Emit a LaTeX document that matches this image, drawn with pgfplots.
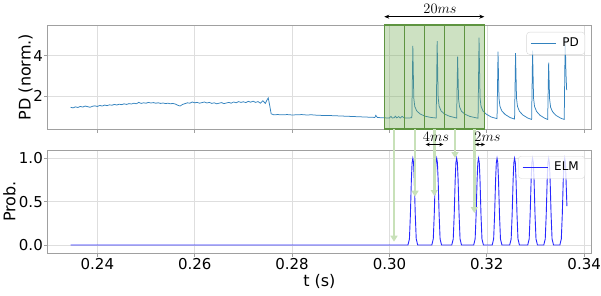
\documentclass[border=0pt]{standalone}
\usepackage{pgfplots}
\pgfplotsset{compat=1.18}
\usepackage{fontspec}
\setmainfont{DejaVu Sans}
\usetikzlibrary{arrows.meta}
\definecolor{pdc}{RGB}{50,130,190}
\definecolor{elmc}{RGB}{40,40,255}
\definecolor{framec}{RGB}{160,160,160}
\definecolor{gridc}{RGB}{222,222,222}
\definecolor{legc}{RGB}{215,215,215}
\definecolor{boxg}{RGB}{112,168,80}
\definecolor{boxedge}{RGB}{94,148,64}
\definecolor{arrg}{RGB}{200,225,185}
\pgfplotsset{
  mystyle/.style={
    scale only axis, width=543.3pt,
    xmin=0.2298, xmax=0.3414,
    axis line style={draw=framec, line width=0.8pt},
    every tick/.style={draw=framec, line width=0.8pt},
    tick align=outside, major tick length=3.5pt,
    tick pos=left,
    grid=major, grid style={gridc, line width=0.6pt},
    xtick={0.24,0.26,0.28,0.30,0.32,0.34},
    tick label style={font=\fontsize{15}{17}\selectfont, inner sep=1.2pt},
    label style={font=\fontsize{16}{18}\selectfont},
    /pgf/number format/assume math mode=true,
    legend cell align=left,
    legend image code/.code={\draw[#1] (0pt,0pt) -- (25pt,0pt);},
    legend style={at={(1,1)}, anchor=north east, draw=legc, rounded corners=3pt,
      fill=white, fill opacity=0.8, text opacity=1, draw opacity=1, inner xsep=4pt, inner ysep=4pt,
      column sep=4pt, font=\fontsize{12}{14}\selectfont},
  }
}
\begin{document}
\begin{tikzpicture}[x=1pt,y=1pt]
\path[use as bounding box] (0,0) rectangle (601,295);
\begin{axis}[mystyle, name=top, at={(47.7pt,166pt)}, anchor=south west, height=104pt,
  ymin=0.39, ymax=5.51, ytick={2,4}, xticklabels={}, ylabel={PD (norm.)},
  ylabel style={at={(axis description cs:-0.0405,0.5)}, anchor=center, font=\fontsize{16}{18}\selectfont},
  clip=false,
  legend style={xshift=-6pt, yshift=-7pt}]
\addplot[pdc, line width=0.75pt] coordinates {
(0.2345,1.46)(0.2350,1.43)(0.2355,1.48)(0.2360,1.45)(0.2365,1.50)(0.2370,1.47)
(0.2375,1.52)(0.2380,1.49)(0.2385,1.46)(0.2390,1.51)(0.2395,1.53)(0.2400,1.50)
(0.2405,1.55)(0.2410,1.52)(0.2415,1.57)(0.2420,1.54)(0.2425,1.58)(0.2430,1.56)
(0.2435,1.60)(0.2440,1.57)(0.2445,1.61)(0.2450,1.59)(0.2455,1.63)(0.2460,1.60)
(0.2465,1.64)(0.2470,1.62)(0.2475,1.66)(0.2480,1.63)(0.2485,1.70)(0.2490,1.65)
(0.2495,1.68)(0.2500,1.66)(0.2505,1.70)(0.2510,1.67)(0.2515,1.69)(0.2520,1.66)
(0.2525,1.68)(0.2530,1.65)(0.2535,1.67)(0.2540,1.64)(0.2545,1.66)(0.2550,1.63)
(0.2555,1.65)(0.2560,1.62)(0.2565,1.56)(0.2570,1.52)(0.2575,1.60)(0.2580,1.64)
(0.2585,1.68)(0.2590,1.66)(0.2595,1.72)(0.2600,1.68)(0.2605,1.70)(0.2610,1.66)
(0.2615,1.69)(0.2620,1.72)(0.2625,1.67)(0.2630,1.70)(0.2635,1.65)(0.2640,1.68)
(0.2645,1.63)(0.2650,1.66)(0.2655,1.69)(0.2660,1.64)(0.2665,1.67)(0.2670,1.70)
(0.2675,1.66)(0.2680,1.72)(0.2685,1.68)(0.2690,1.74)(0.2695,1.70)(0.2700,1.73)
(0.2705,1.69)(0.2710,1.75)(0.2715,1.71)(0.2720,1.76)(0.2725,1.70)(0.2730,1.74)
(0.2735,1.66)(0.2740,1.78)(0.2745,1.65)(0.2748,1.80)(0.2751,1.92)(0.2754,1.55)
(0.2757,1.14)(0.2762,1.09)(0.2770,1.10)(0.2780,1.09)(0.2790,1.10)(0.2800,1.08)
(0.2810,1.09)(0.2820,1.10)(0.2830,1.08)(0.2840,1.09)(0.2850,1.07)(0.2860,1.06)
(0.2870,1.06)(0.2880,1.05)(0.2890,1.04)(0.2900,1.03)(0.2910,1.02)(0.2920,1.01)
(0.2930,1.00)(0.2940,0.99)(0.2950,0.98)(0.2960,0.97)(0.2970,0.96)(0.2972,1.06)
(0.2975,0.96)(0.2980,0.95)(0.2990,0.94)(0.3000,0.93)(0.3003,1.01)(0.3006,0.93)
(0.3010,0.95)(0.3012,1.02)(0.3015,0.94)(0.3019,1.00)(0.3022,0.93)(0.3026,1.01)
(0.3030,0.94)(0.3040,0.93)(0.3046,0.95)
(0.3048,4.48)(0.3050,1.90)(0.3052,1.50)(0.3056,1.28)(0.3063,1.13)(0.3073,1.02)(0.3085,0.96)(0.3096,0.93)
(0.3098,4.72)(0.3100,1.95)(0.3102,1.52)(0.3106,1.28)(0.3113,1.13)(0.3123,1.02)(0.3138,0.93)
(0.3140,3.95)(0.3142,1.85)(0.3144,1.48)(0.3148,1.26)(0.3155,1.12)(0.3165,1.01)(0.3182,0.92)
(0.3184,4.89)(0.3186,1.95)(0.3188,1.52)(0.3192,1.28)(0.3199,1.12)(0.3209,0.98)(0.3221,0.90)
(0.3223,4.20)(0.3225,1.90)(0.3227,1.50)(0.3231,1.27)(0.3238,1.10)(0.3248,0.95)(0.3257,0.88)
(0.3259,4.12)(0.3261,1.90)(0.3263,1.50)(0.3267,1.26)(0.3274,1.08)(0.3284,0.93)(0.3292,0.86)
(0.3294,4.25)(0.3296,1.90)(0.3298,1.50)(0.3302,1.26)(0.3309,1.07)(0.3319,0.92)(0.3325,0.86)
(0.3327,3.66)(0.3329,1.85)(0.3331,1.46)(0.3335,1.24)(0.3342,1.06)(0.3352,0.92)(0.3359,0.86)
(0.3361,4.94)(0.33625,3.20)(0.3364,2.30)
};
\addlegendentry{PD}
\fill[boxg, fill opacity=0.35] (axis cs:0.29903,0.39) rectangle (axis cs:0.31957,5.51);
\draw[boxedge, line width=1.3pt] (axis cs:0.29903,0.39) rectangle (axis cs:0.31957,5.51);
\draw[boxedge, line width=1.3pt] (axis cs:0.30314,0.39) -- (axis cs:0.30314,5.51);
\draw[boxedge, line width=1.3pt] (axis cs:0.30725,0.39) -- (axis cs:0.30725,5.51);
\draw[boxedge, line width=1.3pt] (axis cs:0.31136,0.39) -- (axis cs:0.31136,5.51);
\draw[boxedge, line width=1.3pt] (axis cs:0.31547,0.39) -- (axis cs:0.31547,5.51);
\end{axis}
\begin{axis}[mystyle, name=bot, at={(47.7pt,42pt)}, anchor=south west, height=103pt,
  ymin=-0.092, ymax=1.096, ytick={0,0.5,1},
  yticklabel style={/pgf/number format/.cd, fixed, fixed zerofill, precision=1},
  xticklabel style={/pgf/number format/.cd, fixed, fixed zerofill, precision=2},
  xlabel={t (s)}, ylabel={Prob.},
  ylabel style={at={(axis description cs:-0.0705,0.5)}, anchor=center, font=\fontsize{16}{18}\selectfont},
  legend style={xshift=-6pt, yshift=-6pt}]
\addplot[elmc, line width=0.9pt] coordinates {
(0.2345,0)(0.3038,0)
(0.3041,0.07)(0.3043,0.35)(0.3045,0.75)(0.30465,0.95)(0.3048,1.0)(0.30495,0.95)(0.3051,0.75)(0.3053,0.35)(0.3055,0.07)(0.3058,0)
(0.3087,0)(0.3090,0.07)(0.3092,0.35)(0.3094,0.75)(0.30955,0.95)(0.3097,1.0)(0.30985,0.95)(0.3100,0.75)(0.3102,0.35)(0.3104,0.07)(0.3107,0)
(0.3128,0)(0.3131,0.07)(0.3133,0.35)(0.3135,0.75)(0.31365,0.95)(0.3138,1.0)(0.31395,0.95)(0.3141,0.75)(0.3143,0.35)(0.3145,0.07)(0.3148,0)
(0.3173,0)(0.3176,0.07)(0.3178,0.35)(0.3180,0.75)(0.31815,0.95)(0.3183,1.0)(0.31845,0.95)(0.3186,0.75)(0.3188,0.35)(0.3190,0.07)(0.3193,0)
(0.3211,0)(0.3214,0.07)(0.3216,0.35)(0.3218,0.75)(0.32195,0.95)(0.3221,1.0)(0.32225,0.95)(0.3224,0.75)(0.3226,0.35)(0.3228,0.07)(0.3231,0)
(0.3247,0)(0.3250,0.07)(0.3252,0.35)(0.3254,0.75)(0.32555,0.95)(0.3257,1.0)(0.32585,0.95)(0.3260,0.75)(0.3262,0.35)(0.3264,0.07)(0.3267,0)
(0.3284,0)(0.3287,0.07)(0.3289,0.35)(0.3291,0.75)(0.32925,0.95)(0.3294,1.0)(0.32955,0.95)(0.3297,0.75)(0.3299,0.35)(0.3301,0.07)(0.3304,0)
(0.3317,0)(0.3320,0.07)(0.3322,0.35)(0.3324,0.75)(0.33255,0.95)(0.3327,1.0)(0.33285,0.95)(0.3330,0.75)(0.3332,0.35)(0.3334,0.07)(0.3337,0)
(0.3350,0)(0.3353,0.07)(0.3355,0.35)(0.3357,0.75)(0.33585,0.95)(0.3360,1.0)(0.33615,0.95)(0.3363,0.70)(0.33645,0.45)
};
\addlegendentry{ELM}
\end{axis}
% annotations
\draw[{Stealth[length=5pt,width=4pt]}-{Stealth[length=5pt,width=4pt]}, line width=0.7pt] (384.3,278.3) -- (484.3,278.3);
\node[font=\fontsize{14}{16}\selectfont] at (440,286) {$20ms$};
\foreach \ax/\ay in {394/53.3, 415/98.3, 434.3/99, 455/137, 474.3/82}{
  \draw[arrg, line width=2.5pt, -{Triangle[length=6pt,width=7pt]}] (\ax,166) -- (\ax,\ay);
}
\draw[{Stealth[length=4pt,width=3.5pt]}-{Stealth[length=4pt,width=3.5pt]}, line width=0.7pt] (425.7,150.5) -- (443.3,150.5);
\node[font=\fontsize{13.5}{15}\selectfont] at (436,158) {$4ms$};
\draw[{Stealth[length=4pt,width=3.5pt]}-{Stealth[length=4pt,width=3.5pt]}, line width=0.7pt] (475,150.5) -- (485,150.5);
\node[font=\fontsize{13.5}{15}\selectfont] at (487.5,158) {$2ms$};
\end{tikzpicture}
\end{document}
